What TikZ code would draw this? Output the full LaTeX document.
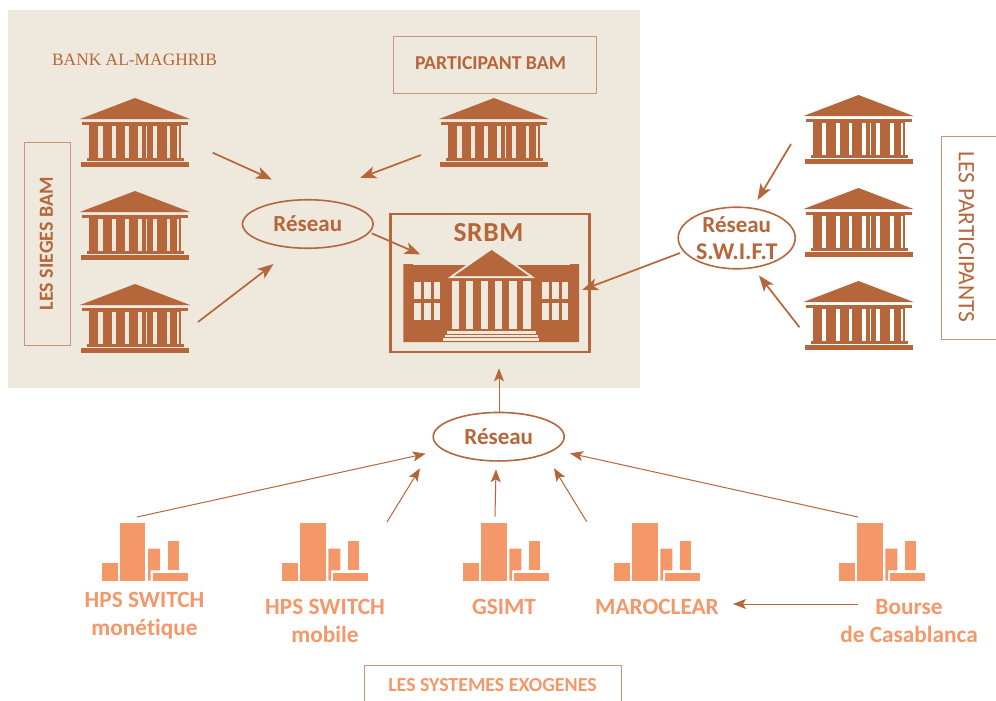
\documentclass[tikz,border=0pt]{standalone}
\usepackage{fontspec}
\setmainfont{Carlito}[Ligatures=NoCommon]
\newfontfamily\serifx{Liberation Serif}
\usetikzlibrary{arrows.meta,shapes.geometric}
\definecolor{brn}{HTML}{B5663A}
\definecolor{org}{HTML}{F4986A}
\definecolor{bgc}{HTML}{EFE8DC}
\tikzset{
  x=1pt,y=-1pt,
  connbig/.style={draw=brn,line width=1.7pt,-{Stealth[length=16pt,width=12pt,inset=4pt]}},
  connsmall/.style={draw=brn,line width=1pt,-{Stealth[length=13pt,width=10pt,inset=3pt]}},
  thinbox/.style={draw=brn!70!white,line width=1pt},
  btext/.style={text=brn,font=\bfseries\fontsize{20}{22}\selectfont,align=center,inner sep=0pt},
  otext/.style={text=org,font=\bfseries\fontsize{23.3}{28}\selectfont,align=center,inner sep=0pt},
  oval/.style={draw=brn,line width=1.6pt,ellipse,inner sep=0pt,text=brn,align=center,font=\bfseries\fontsize{23}{28}\selectfont},
  bank/.pic={
    \fill[brn] (0,0) -- (55,21) -- (-55,21) -- cycle;
    \fill[brn] (-53,23.7) rectangle (53,27);
    \fill[brn] (-46,27) rectangle (46,60);
    \fill[brn] (-48,60) rectangle (49,63.3);
    \fill[brn] (-54,64.3) rectangle (54,69);
    \foreach \a/\b in {-36.7/-32.4,-22.7/-18.6,-10/-6.4,3/7,11/12,17.7/21.6,31.7/35.4,42.3/44}
      \fill[bgc] (\a,27.5) rectangle (\b,60);
  },
  bankw/.pic={
    \fill[brn] (0,0) -- (55,21) -- (-55,21) -- cycle;
    \fill[brn] (-53,23.7) rectangle (53,27);
    \fill[brn] (-46,27) rectangle (46,60);
    \fill[brn] (-48,60) rectangle (49,63.3);
    \fill[brn] (-54,64.3) rectangle (54,69);
    \foreach \a/\b in {-36.7/-32.4,-22.7/-18.6,-10/-6.4,3/7,11/12,17.7/21.6,31.7/35.4,42.3/44}
      \fill[white] (\a,27.5) rectangle (\b,60);
  },
  chart/.pic={
    \fill[org] (0,0) rectangle (16,-18);
    \fill[org] (18.3,0) rectangle (43.7,-58);
    \fill[org] (46.3,0) -- (46.3,-32) -- (58.3,-32) -- (58.3,-10.3) -- (49,-10.3) -- (49,0) -- cycle;
    \fill[org] (66,-10.3) rectangle (77.3,-40);
    \fill[org] (51.3,-8) rectangle (86.3,0);
  }
}
\begin{document}
\begin{tikzpicture}
\useasboundingbox (0,0) rectangle (996,701);
\fill[white] (0,0) rectangle (996,701);
\fill[bgc] (8,10) rectangle (640,388);

% label boxes
\draw[thinbox] (393,37) rectangle (596,93);
\draw[thinbox] (24,142) rectangle (70,345);
\draw[thinbox] (996,136) -- (941.5,136) -- (941.5,339) -- (996,339);
\draw[thinbox] (364,701) -- (364,665) -- (621,665) -- (621,701);

\node[text=brn,font=\serifx\fontsize{17.4}{20}\selectfont,inner sep=0pt] (lbam) at (134.5,59.5) {BANK AL-MAGHRIB};
\node[btext,font=\bfseries\fontsize{19.7}{22}\selectfont] (lpart) at (490.5,63.5) {PARTICIPANT BAM};
\node[btext,rotate=90] (lsieg) at (46.5,243.5) {LES SIEGES BAM};
\node[text=brn,font=\fontsize{23.5}{26}\selectfont,inner sep=0pt,rotate=-90] (lpar) at (966.5,237) {LES PARTICIPANTS};
\node[text=org,font=\bfseries\fontsize{19.9}{22}\selectfont,inner sep=0pt] (lexo) at (492.5,685) {LES SYSTEMES EXOGENES};

% banks
\pic at (135,98) {bank};
\pic at (135,191) {bank};
\pic at (135,284) {bank};
\pic at (494,98) {bank};
\pic at (858.5,95) {bankw};
\pic at (858.5,188) {bankw};
\pic at (858.5,281) {bankw};

% SRBM
\draw[brn,line width=2.2pt] (390.5,214) rectangle (589.5,352);
\node[text=brn,font=\bfseries\fontsize{27.5}{30}\selectfont,inner sep=0pt] (srbm) at (488.5,232.5) {S\kern0.6pt R\kern0.6pt B\kern0.6pt M};
\fill[brn] (403.3,264) -- (413,264) -- (413,265) -- (570,265) -- (570,264) -- (579,264) -- (579,342) -- (403.3,342) -- cycle;
\fill[bgc] (491.7,247) -- (535,278) -- (448,278) -- cycle;
\fill[brn] (491.7,250) -- (529,276) -- (454,276) -- cycle;
\foreach \a in {451.7,466,480.7,495,509.3,523.3}
  \fill[bgc] (\a,280.7) rectangle ++(7.2,48.5);
\fill[bgc] (446.7,331) rectangle (536,333.7);
\fill[bgc] (445,334.7) rectangle (537.7,337.3);
\fill[bgc] (443.3,338.3) rectangle (539.3,341);
\foreach \x in {414.3,424,433.7,542.3,552,561.7}
  \foreach \y/\h in {282/16.7,303.3/16.7}
    \fill[bgc] (\x,\y) rectangle ++(6.7,\h);

% ellipses
\node[oval,fill=bgc,minimum width=130.5pt,minimum height=48.5pt] (r1) at (307.8,224) {Réseau};
\node[oval,fill=white,minimum width=117pt,minimum height=61.5pt] (r2) at (736.7,238) {Réseau\\[-0.5pt]\fontsize{24}{28}\selectfont S.W.I.F.T};
\node[oval,fill=white,minimum width=131pt,minimum height=48.5pt] (r3) at (498.7,436.7) {Réseau};

% charts
\pic at (101.7,580.7) {chart};
\pic at (282,580.7) {chart};
\pic at (463,580.7) {chart};
\pic at (614,580.7) {chart};
\pic at (839,580.7) {chart};

\node[otext] (t1) at (144.5,616) {HPS SWITCH\\monétique};
\node[otext] (t2) at (325,621) {HPS SWITCH\\mobile};
\node[otext] (t3) at (504,607) {GSIMT};
\node[otext] (t4) at (657,607) {MAROCLEAR};
\node[otext] (t5) at (909,621.5) {Bourse\\de Casablanca};

% connector ends
\coordinate (a1) at (212.7,152.7); \coordinate (a1e) at (272,179.5);
\coordinate (a2) at (421,155); \coordinate (a2e) at (360,178);
\coordinate (a3) at (198,322); \coordinate (a3e) at (273.5,264);
\coordinate (a4) at (371.7,233.3); \coordinate (a4e) at (420.5,254.5);
\coordinate (a5) at (791,144); \coordinate (a5e) at (757.5,200);
\coordinate (a6) at (799.5,327.3); \coordinate (a6e) at (759,275.5);
\coordinate (a7) at (680,253); \coordinate (a7e) at (582,290);
\coordinate (a8) at (499,411.7); \coordinate (a8e) at (499,368.3);
\coordinate (b1) at (137,517); \coordinate (b1e) at (425.7,453.7);
\coordinate (b2) at (387,522); \coordinate (b2e) at (420,468.3);
\coordinate (b3) at (495,516.7); \coordinate (b3e) at (496,469.3);
\coordinate (b4) at (586.7,521.7); \coordinate (b4e) at (554,468.3);
\coordinate (b5) at (858,517); \coordinate (b5e) at (570,453.3);
\coordinate (b6) at (858,604); \coordinate (b6e) at (733,604);

\foreach \s/\e in {a1/a1e,a2/a2e,a3/a3e,a4/a4e,a5/a5e,a6/a6e,a7/a7e}
  \draw[connbig] (\s) -- (\e);
\foreach \s/\e in {a8/a8e,b1/b1e,b2/b2e,b3/b3e,b4/b4e,b5/b5e,b6/b6e}
  \draw[connsmall] (\s) -- (\e);
\end{tikzpicture}
\end{document}
